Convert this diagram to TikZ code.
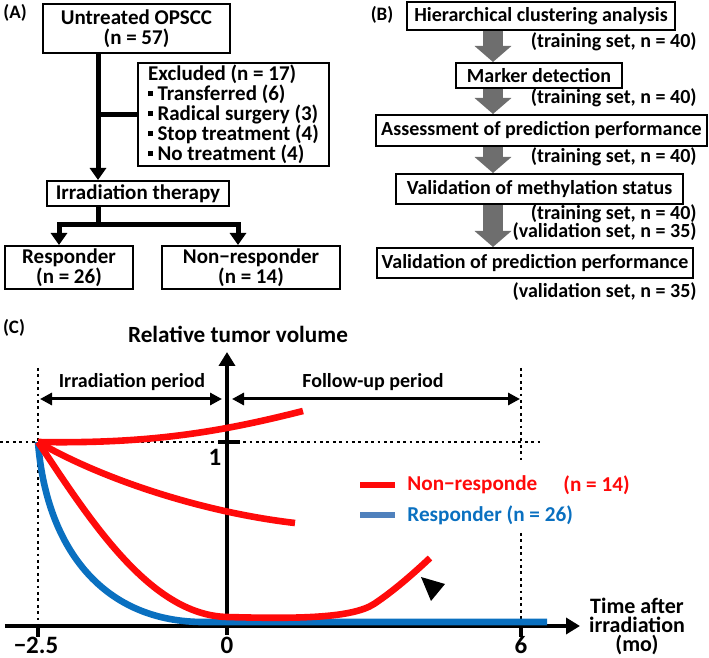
\documentclass[tikz,border=0pt]{standalone}
\usepackage{fontspec}
\setmainfont{Carlito}
\usepackage{tikz}
\usetikzlibrary{arrows.meta,positioning,calc}
\usepackage{xcolor}
\definecolor{nrred}{RGB}{255,10,10}
\definecolor{respblue}{RGB}{10,112,192}
\definecolor{legblue}{RGB}{79,129,189}
\definecolor{arrgray}{RGB}{110,110,110}

\begin{document}
\begin{tikzpicture}[
    x=0.5pt, y=-0.5pt,
    box/.style={draw, line width=1pt, inner sep=0pt, align=center,
                font=\fontsize{10.5}{10}\selectfont\bfseries},
    stepbox/.style={box, font=\fontsize{10}{10}\selectfont\bfseries},
    flowline/.style={line width=2.5pt},
    flow/.style={flowline, -{Triangle[width=8pt,length=6pt]}},
    blockarr/.style={line width=10pt, arrgray, -{Triangle[width=18pt,length=8pt]}},
    setlab/.style={anchor=east, inner sep=0pt, font=\fontsize{10}{10}\selectfont\bfseries},
    panel/.style={font=\fontsize{9.5}{9.5}\selectfont\bfseries},
    axis/.style={line width=2pt, -{Triangle[width=8pt,length=7pt]}},
    period/.style={line width=1.5pt, {Triangle[width=6pt,length=6pt]}-{Triangle[width=6pt,length=6pt]}},
    dotline/.style={line width=1.4pt, dash pattern=on 1.4pt off 1.8pt},
    nrcurve/.style={line width=3.3pt, nrred},
    rcurve/.style={line width=3.3pt, respblue},
    ticklab/.style={font=\fontsize{12.5}{12.5}\selectfont\bfseries},
    leglab/.style={anchor=west, inner sep=0pt, font=\fontsize{10.6}{10.6}\selectfont\bfseries}
]
\useasboundingbox (0,0) rectangle (709,658);

% (A)
\node[panel] (pa) at (15,13) {(A)};
\node[box, minimum width=93.5pt, minimum height=24.5pt] (opscc) at (136.5,28.5) {Untreated OPSCC\\(n = 57)};
\node[box, minimum width=95.5pt, minimum height=51.5pt, align=left] (excl) at (233.5,114.5)
  {Excluded (n = 17)\\
   \rule[0.22em]{0.22em}{0.22em}\ Transferred (6)\\
   \rule[0.22em]{0.22em}{0.22em}\ Radical surgery (3)\\
   \rule[0.22em]{0.22em}{0.22em}\ Stop treatment (4)\\
   \rule[0.22em]{0.22em}{0.22em}\ No treatment (4)};
\node[box, minimum width=91pt, minimum height=12.5pt] (irr) at (138,193.5) {Irradiation therapy};
\node[box, minimum width=64pt, minimum height=21.5pt] (resp) at (69,267.5) {Responder\\(n = 26)};
\node[box, minimum width=89pt, minimum height=21.5pt] (nonresp) at (251,267.5) {Non−responder\\(n = 14)};

\coordinate (trunk) at (98,0);
\coordinate (split) at (98,225);
\coordinate (lbr) at (59,225);
\coordinate (rbr) at (238,225);
\draw[flow] (opscc.south -| trunk) -- (irr.north -| trunk);
\draw[flowline] (trunk |- excl.west) -- (excl.west);
\draw[flowline] (irr.south -| split) -- (split);
\draw[flow] (split) -| (resp.north -| lbr);
\draw[flow] (split) -| (nonresp.north -| rbr);

% (B)
\node[panel] (pb) at (382,15) {(B)};
\node[stepbox, minimum width=134pt, minimum height=14pt] (hca) at (541,16) {Hierarchical clustering analysis};
\node[stepbox, minimum width=83pt, minimum height=12.5pt] (mark) at (539,75.5) {Marker detection};
\node[stepbox, minimum width=165.5pt, minimum height=15.5pt] (assess) at (541.5,130.5) {Assessment of prediction performance};
\node[stepbox, minimum width=143.5pt, minimum height=15pt] (valmeth) at (539.5,189) {Validation of methylation status};
\node[stepbox, minimum width=158pt, minimum height=15pt] (valpred) at (535,263) {Validation of prediction performance};

\node[setlab] (tr1) at (697,42) {(training set, n = 40)};
\node[setlab] (tr2) at (697,98) {(training set, n = 40)};
\node[setlab] (tr3) at (697,157) {(training set, n = 40)};
\node[setlab] (tr4) at (697,214) {(training set, n = 40)};
\node[setlab] (va1) at (697,232) {(validation set, n = 35)};
\node[setlab] (va2) at (697,292) {(validation set, n = 35)};

\coordinate (barr) at (493,0);
\draw[blockarr] (hca.south -| barr) -- (mark.north -| barr);
\draw[blockarr] (mark.south -| barr) -- (assess.north -| barr);
\draw[blockarr] (assess.south -| barr) -- (valmeth.north -| barr);
\draw[blockarr] (valmeth.south -| barr) -- (valpred.north -| barr);

% (C)
\node[panel] (pc) at (14,328) {(C)};
\node[font=\fontsize{11.6}{11.6}\selectfont\bfseries] (ylab) at (238,334) {Relative tumor volume};
\coordinate (start) at (38,442);

\draw[dotline] (38,368) -- (38,626);
\draw[dotline] (521,368) -- (521,462);
\draw[dotline] (521,533) -- (521,626);
\draw[dotline] (0,442) -- (540,442);

\draw[axis] (5,626) -- (580,626);
\draw[axis] (227,635) -- (227,352);
\draw[line width=2pt] (38,626) -- (38,637);
\draw[line width=2pt] (521,626) -- (521,637);
\draw[line width=2.2pt] (218,442) -- (240,442);

\node[ticklab] (tm) at (36,645) {−2.5};
\node[ticklab] (t0) at (227,645) {0};
\node[ticklab] (t6) at (521,645) {6};
\node[ticklab] (t1) at (215,457) {1};
\node[font=\fontsize{11}{9.5}\selectfont\bfseries, align=center] (xlab) at (637,626) {Time after\\irradiation\\(mo)};

\coordinate (ipl) at (40,399);
\coordinate (ipr) at (222,399);
\coordinate (fpl) at (232,399);
\coordinate (fpr) at (520,399);
\draw[period] (ipl) -- (ipr);
\draw[period] (fpl) -- (fpr);
\node[font=\fontsize{10}{10}\selectfont\bfseries] (iplab) at (132,382) {Irradiation period};
\node[font=\fontsize{10}{10}\selectfont\bfseries] (fplab) at (373,382) {Follow-up period};

\draw[rcurve] (start) .. controls (46,545) and (100,620) .. (200,622) -- (547,622);
\draw[nrcurve] (start) .. controls (150,444) and (220,432) .. (303,411);
\draw[nrcurve] (start) .. controls (100,478) and (200,512) .. (295,523);
\draw[nrcurve] (start) .. controls (90,520) and (150,615) .. (227,617)
  .. controls (300,619) and (352,618) .. (374,604)
  .. controls (395,590) and (415,572) .. (430,558);
\fill (421,577) -- (445,584) -- (431,601) -- cycle;

\node[leglab, nrred] (nrleg) at (407,485) {Non−responde};
\node[leglab, nrred] (nrn) at (563,485) {(n = 14)};
\node[leglab, respblue] (rleg) at (407,515) {Responder (n = 26)};
\draw[line width=3.3pt, nrred] ($(nrleg.west)+(-47,0)$) -- ($(nrleg.west)+(-12,0)$);
\draw[line width=3.3pt, legblue] ($(rleg.west)+(-47,0)$) -- ($(rleg.west)+(-12,0)$);
\end{tikzpicture}
\end{document}
